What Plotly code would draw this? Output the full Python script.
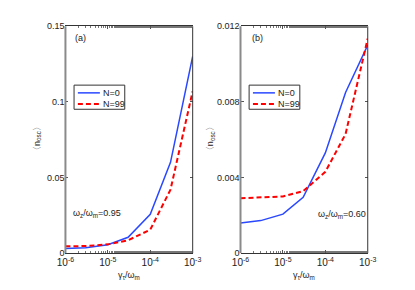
import plotly.graph_objects as go

gamma = [1e-6, 3e-6, 1e-5, 3e-5, 1e-4, 3e-4, 1e-3]
a_n0 = [0.0030, 0.0035, 0.0055, 0.0105, 0.0257, 0.0600, 0.1300]
a_n99 = [0.0045, 0.0047, 0.0058, 0.0085, 0.0155, 0.0420, 0.1070]
b_n0 = [0.00160, 0.00172, 0.00206, 0.00295, 0.00530, 0.00850, 0.01100]
b_n99 = [0.00290, 0.00293, 0.00300, 0.00328, 0.00430, 0.00630, 0.01135]
series_names = ["N=0", "N=99"]

xtick_vals = [1e-6, 1e-5, 1e-4, 1e-3]
xtick_text = ["10<sup>-6</sup>", "10<sup>-5</sup>", "10<sup>-4</sup>", "10<sup>-3</sup>"]
a_yticks = [0, 0.05, 0.1, 0.15]
a_ytext = ["0", "0.05", "0.1", "0.15"]
b_yticks = [0, 0.004, 0.008, 0.012]
b_ytext = ["0", "0.004", "0.008", "0.012"]

BLUE = "#2a48ff"
RED = "#ff0000"
FONT = "Liberation Sans, Arial, sans-serif"
blue_line = dict(color=BLUE, width=1.5)
red_line = dict(color=RED, width=2, dash="5px,3px")

fig = go.Figure()
fig.add_trace(go.Scatter(x=gamma, y=a_n0, mode="lines", name=series_names[0],
                         line=blue_line, xaxis="x", yaxis="y"))
fig.add_trace(go.Scatter(x=gamma, y=a_n99, mode="lines", name=series_names[1],
                         line=red_line, xaxis="x", yaxis="y"))
fig.add_trace(go.Scatter(x=gamma, y=b_n0, mode="lines", name=series_names[0],
                         line=blue_line, xaxis="x2", yaxis="y2"))
fig.add_trace(go.Scatter(x=gamma, y=b_n99, mode="lines", name=series_names[1],
                         line=red_line, xaxis="x2", yaxis="y2"))

W, H = 415, 290
xd1 = [59 / W, 192 / W]
xd2 = [242 / W, 375 / W]
yd = [(H - 257) / H, (H - 22) / H]

xcommon = dict(type="log", range=[-6, -3], tickvals=xtick_vals, ticktext=xtick_text,
               ticks="inside", ticklen=3, tickcolor="#555", mirror="ticks",
               showline=True, linecolor="#333", linewidth=1, showgrid=False, zeroline=False,
               minor=dict(ticks="inside", ticklen=2, tickcolor="#777", showgrid=False),
               tickfont=dict(family=FONT, size=10, color="#222"))
ycommon = dict(ticks="inside", ticklen=3, tickcolor="#555", mirror="ticks",
               showline=False, showgrid=False, zeroline=False,
               tickfont=dict(family=FONT, size=9, color="#222"))

fig.update_layout(
    width=W, height=H,
    margin=dict(l=0, r=0, t=0, b=0),
    plot_bgcolor="white", paper_bgcolor="white",
    xaxis=dict(domain=xd1, anchor="y", **xcommon),
    yaxis=dict(domain=yd, anchor="x", range=[0, 0.15], tickvals=a_yticks, ticktext=a_ytext, **ycommon),
    xaxis2=dict(domain=xd2, anchor="y2", **xcommon),
    yaxis2=dict(domain=yd, anchor="x2", range=[0, 0.012], tickvals=b_yticks, ticktext=b_ytext, **ycommon),
    showlegend=False,
)


def px(x):
    return x / W


def py(y):
    return (H - y) / H


# axis spines (left thick gray, right thin dark)
for xr, yr in [("x domain", "y domain"), ("x2 domain", "y2 domain")]:
    fig.add_shape(type="line", xref=xr, yref=yr, x0=0, x1=0, y0=0, y1=1,
                  line=dict(color="#8a8a8a", width=2))
    fig.add_shape(type="line", xref=xr, yref=yr, x0=1, x1=1, y0=0, y1=1,
                  line=dict(color="#333", width=1))

ann_font = dict(family=FONT, size=9, color="#222")

# legends (one box per panel)
for bx in [68, 251]:
    fig.add_shape(type="rect", xref="paper", yref="paper",
                  x0=px(bx), x1=px(bx + 53), y0=py(108), y1=py(83),
                  line=dict(color="#333", width=1), fillcolor="white", layer="above")
    for row_y, style, name in [(91, blue_line, series_names[0]), (102.5, red_line, series_names[1])]:
        fig.add_shape(type="line", xref="paper", yref="paper",
                      x0=px(bx + 4), x1=px(bx + 27), y0=py(row_y), y1=py(row_y),
                      line=style, layer="above")
        fig.add_annotation(text=name, x=px(bx + 28), y=py(row_y), xref="paper", yref="paper",
                           showarrow=False, font=ann_font, xanchor="left", yanchor="middle")

annotations = [
    dict(text="(a)", x=67, y=34, anchor="left"),
    dict(text="(b)", x=252, y=34, anchor="left"),
    dict(text="ω<sub>z</sub>/ω<sub>m</sub>=0.95", x=65, y=216, anchor="left"),
    dict(text="ω<sub>z</sub>/ω<sub>m</sub>=0.60", x=321, y=217, anchor="left"),
    dict(text="γ<sub>τ</sub>/ω<sub>m</sub>", x=125, y=280, anchor="center"),
    dict(text="γ<sub>τ</sub>/ω<sub>m</sub>", x=308, y=280, anchor="center"),
]
for a in annotations:
    fig.add_annotation(text=a["text"], x=px(a["x"]), y=py(a["y"]), xref="paper", yref="paper",
                       showarrow=False, font=ann_font, xanchor=a["anchor"], yanchor="middle")
for xpix in [29, 210]:
    fig.add_annotation(text="〈n<sub>osc</sub>〉", x=px(xpix), y=py(138), xref="paper", yref="paper",
                       showarrow=False, font=ann_font, textangle=-90, xanchor="center", yanchor="middle")

fig.write_html("out.html", config={"displayModeBar": False},
               post_script="document.body.style.margin='0';")
